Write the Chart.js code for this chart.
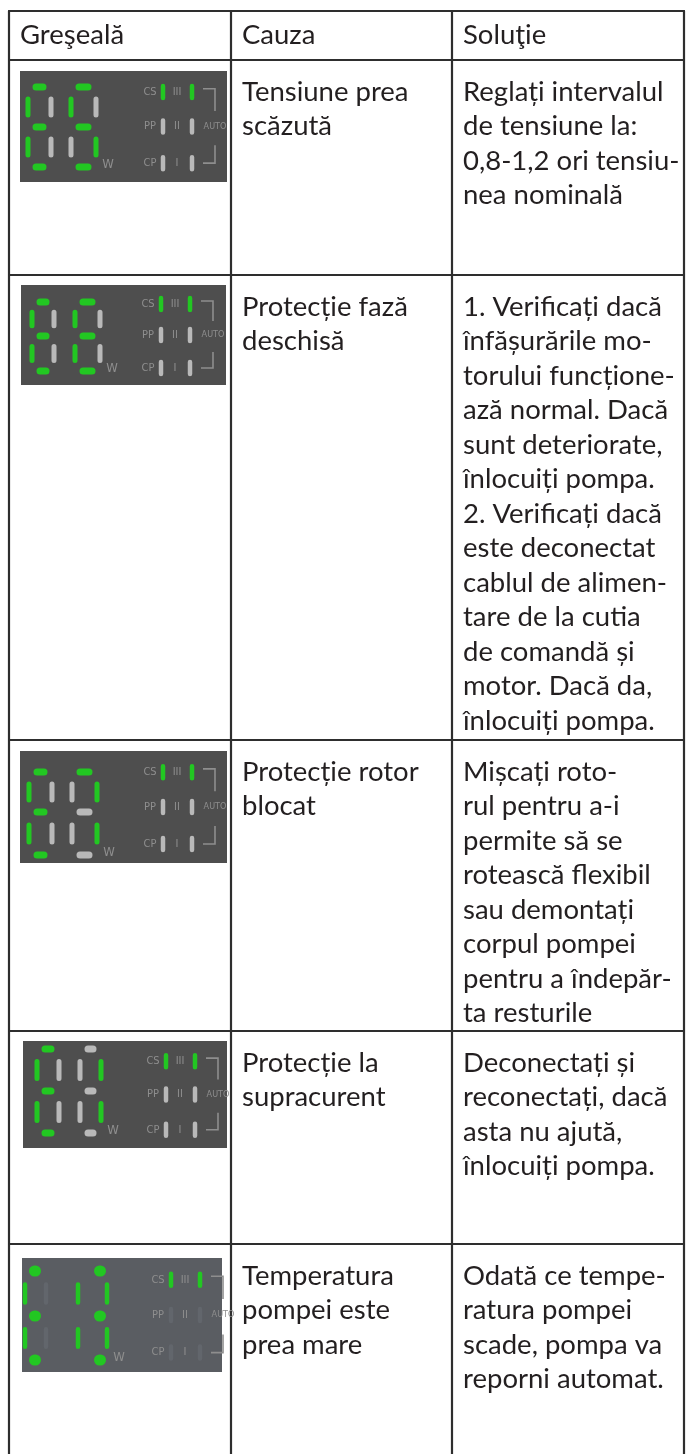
<!DOCTYPE html>
<html lang="ro">
<head>
<meta charset="utf-8">
<title>Greşeală - Cauza - Soluţie</title>
<script src="https://cdn.jsdelivr.net/npm/chart.js@4.4.1/dist/chart.umd.min.js"></script>
<style>
  html, body { margin: 0; padding: 0; background: #fff; }
  #wrap { position: relative; width: 686px; height: 1454px; }
</style>
</head>
<body>
<div id="wrap"><canvas id="table" width="686" height="1454"></canvas></div>
<script>
// --- date ---
const headers = ['Greşeală', 'Cauza', 'Soluţie'];

const causes = [
    ['Tensiune prea', 'scăzută'],
    ['Protecție fază', 'deschisă'],
    ['Protecție rotor', 'blocat'],
    ['Protecție la', 'supracurent'],
    ['Temperatura', 'pompei este', 'prea mare']
];

const solutions = [
    ['Reglați intervalul', 'de tensiune la:', '0,8-1,2 ori tensiu-', 'nea nominală'],
    ['1. Verificați dacă', 'înfășurările mo-', 'torului funcțione-', 'ază normal. Dacă',
     'sunt deteriorate,', 'înlocuiți pompa.', '2. Verificați dacă', 'este deconectat',
     'cablul de alimen-', 'tare de la cutia', 'de comandă și', 'motor. Dacă da,', 'înlocuiți pompa.'],
    ['Mișcați roto-', 'rul pentru a-i', 'permite să se', 'rotească flexibil',
     'sau demontați', 'corpul pompei', 'pentru a îndepăr-', 'ta resturile'],
    ['Deconectați și', 'reconectați, dacă', 'asta nu ajută,', 'înlocuiți pompa.'],
    ['Odată ce tempe-', 'ratura pompei', 'scade, pompa va', 'reporni automat.']
];

// codul afisat pe cele doua cifre
const displayCodes = ['E5', 'EE', 'E7', 'E1', 'E8'];

// lampi: CS / PP / CP si III / II / I
const lampLabels = ['CS', 'PP', 'CP'];
const romanLabels = ['III', 'II', 'I'];
const leftLamps  = [[1, 0, 0], [1, 0, 0], [1, 0, 0], [1, 0, 0], [1, 0, 0]];
const rightLamps = [[1, 0, 0], [1, 0, 0], [1, 0, 0], [1, 0, 0], [1, 0, 0]];

// --- asezare ---
const colEdges = [9, 231, 452, 684];
const rowEdges = [11, 60, 275, 740, 1031, 1244, 1454];
const textPadX = 11;
const firstLine = 32;
const lineStep = 34.5;

// segmente: a sus, b dreapta sus, c dreapta jos, d jos, e stanga jos, f stanga sus, g mijloc
const SEGMENTS = { E: 'adefg', '5': 'acdfg', '7': 'abc', '1': 'bc', '8': 'abcdefg' };

const panels = [
    { x: 20, y: 71,   w: 207, h: 111, digits: [[8, 31], [51, 76]],  segY: [16, 56, 96],  ix: 0 },
    { x: 21, y: 285,  w: 205, h: 100, digits: [[11, 33], [54, 79]], segY: [17, 51, 86],  ix: -3 },
    { x: 20, y: 751,  w: 207, h: 112, digits: [[9, 32], [52, 77]],  segY: [21, 61, 104], ix: 0 },
    { x: 23, y: 1041, w: 204, h: 107, digits: [[14, 36], [57, 78]], segY: [8, 50, 92],   ix: 0 },
    { x: 22, y: 1258, w: 200, h: 114, digits: [[3, 24], [56, 85]],  segY: [13, 58, 102], ix: 6,
      photo: true, dots: [13, 78] }
];

const colors = {
    text: '#231f20',
    border: '#2e2e2e',
    panel: '#4e4e4e',
    panelPhoto: '#5a5d62',
    lit: '#22c722',
    unlit: '#b9b9b9',
    unlitPhoto: '#62666c',
    label: '#8e8e8e'
};

function seg(x1, y1, x2, y2, color, width) {
    return {
        type: 'scatter',
        showLine: true,
        data: [{ x: x1, y: y1 }, { x: x2, y: y2 }],
        borderColor: color,
        borderWidth: width,
        borderCapStyle: 'round',
        borderJoinStyle: 'miter',
        pointRadius: 0,
        fill: false
    };
}

function buildDatasets() {
    const sets = [];

    // chenarul tabelului
    rowEdges.slice(0, -1).forEach(y => sets.push(seg(colEdges[0], y, colEdges[3], y, colors.border, 2.2)));
    colEdges.forEach(x => sets.push(seg(x, rowEdges[0], x, rowEdges[6], colors.border, 2.2)));

    panels.forEach((p, r) => {
        const code = displayCodes[r];
        const [yT, yM, yB] = p.segY;
        const off = p.photo ? colors.unlitPhoto : colors.unlit;
        const X = v => p.x + v, Y = v => p.y + v;

        p.digits.forEach(([xL, xR], d) => {
            const on = SEGMENTS[code[d]] || '';
            const col = s => on.includes(s) ? colors.lit : off;
            const g1 = 0.3 * (yM - yT), g2 = 0.3 * (yB - yM);

            // orizontale
            [['a', yT], ['g', yM], ['d', yB]].forEach(([s, yy]) => {
                if (p.photo) {
                    const dx = p.dots[d];
                    if (on.includes(s)) sets.push(seg(X(dx) - 0.5, Y(yy), X(dx) + 0.5, Y(yy), colors.lit, 11));
                } else {
                    sets.push(seg(X(xL + 8), Y(yy), X(xR - 8), Y(yy), col(s), 7));
                }
            });
            // verticale
            [['f', xL, yT + g1, yM - g1], ['b', xR, yT + g1, yM - g1],
             ['e', xL, yM + g2, yB - g2], ['c', xR, yM + g2, yB - g2]].forEach(([s, xx, y1, y2]) => {
                sets.push(seg(X(xx), Y(y1), X(xx), Y(y2), col(s), p.photo ? 4.5 : 5));
            });
        });

        // lampi
        [0, 1, 2].forEach(i => {
            const yy = p.y + p.h * [0.19, 0.5, 0.83][i];
            const lcol = on => on ? colors.lit : off;
            sets.push(seg(X(143 + p.ix), yy - 6, X(143 + p.ix), yy + 6, lcol(leftLamps[r][i]), 4.5));
            sets.push(seg(X(172 + p.ix), yy - 6, X(172 + p.ix), yy + 6, lcol(rightLamps[r][i]), 4.5));
        });

        // paranteza AUTO
        const bx1 = X(183 + p.ix), bx2 = X(195 + p.ix);
        const up = seg(bx1, Y(p.h * 0.16), bx2, Y(p.h * 0.16), colors.label, 1.6);
        up.data.push({ x: bx2, y: Y(p.h * 0.36) });
        up.borderCapStyle = 'butt';
        const down = seg(bx2, Y(p.h * 0.67), bx2, Y(p.h * 0.83), colors.label, 1.6);
        down.data.push({ x: bx1, y: Y(p.h * 0.83) });
        down.borderCapStyle = 'butt';
        sets.push(up, down);
    });

    return sets;
}

const panelPlugin = {
    id: 'panels',
    beforeDatasetsDraw(chart) {
        const { ctx, scales: { x, y } } = chart;
        ctx.save();
        panels.forEach(p => {
            const x0 = x.getPixelForValue(p.x), y0 = y.getPixelForValue(p.y);
            ctx.fillStyle = p.photo ? colors.panelPhoto : colors.panel;
            ctx.fillRect(x0, y0, x.getPixelForValue(p.x + p.w) - x0, y.getPixelForValue(p.y + p.h) - y0);
        });
        ctx.restore();
    }
};

const textPlugin = {
    id: 'texts',
    afterDatasetsDraw(chart) {
        const { ctx, scales: { x, y } } = chart;
        ctx.save();
        ctx.textBaseline = 'middle';
        ctx.fillStyle = colors.text;
        ctx.font = '27.5px Lato, "Open Sans", sans-serif';

        const headY = (rowEdges[0] + rowEdges[1]) / 2;
        headers.forEach((h, i) => {
            ctx.fillText(h, x.getPixelForValue(colEdges[i] + textPadX), y.getPixelForValue(headY));
        });

        [causes, solutions].forEach((col, c) => {
            col.forEach((lines, r) => {
                lines.forEach((line, k) => {
                    const yy = rowEdges[r + 1] + firstLine + k * lineStep;
                    ctx.fillText(line, x.getPixelForValue(colEdges[c + 1] + textPadX), y.getPixelForValue(yy));
                });
            });
        });

        // etichete mici pe afisaj
        ctx.fillStyle = colors.label;
        ctx.textAlign = 'center';
        panels.forEach(p => {
            ctx.font = '11px "Liberation Sans Narrow", "DejaVu Sans Condensed", sans-serif';
            [0.19, 0.5, 0.83].forEach((f, i) => {
                const yy = y.getPixelForValue(p.y + p.h * f);
                ctx.fillText(lampLabels[i], x.getPixelForValue(p.x + 130 + p.ix), yy);
                ctx.fillText(romanLabels[i], x.getPixelForValue(p.x + 157 + p.ix), yy);
            });
            ctx.font = '13px "Liberation Sans Narrow", "DejaVu Sans Condensed", sans-serif';
            const lastX = p.digits[1][1];
            ctx.fillText('W', x.getPixelForValue(p.x + lastX + 12), y.getPixelForValue(p.y + p.segY[2] - 2));
            ctx.font = '9px "Liberation Sans Narrow", "DejaVu Sans Condensed", sans-serif';
            ctx.fillText('AUTO', x.getPixelForValue(p.x + 195 + p.ix), y.getPixelForValue(p.y + p.h * 0.5));
        });
        ctx.restore();
    }
};

function draw() {
    new Chart(document.getElementById('table'), {
        type: 'scatter',
        data: { datasets: buildDatasets() },
        options: {
            responsive: false,
            animation: false,
            events: [],
            layout: { padding: 0 },
            plugins: { legend: { display: false }, tooltip: { enabled: false } },
            scales: {
                x: { type: 'linear', min: 0, max: 686, display: false },
                y: { type: 'linear', min: 0, max: 1454, reverse: true, display: false }
            }
        },
        plugins: [panelPlugin, textPlugin]
    });
}

document.fonts.load('27.5px Lato').then(draw, draw);
</script>
</body>
</html>
